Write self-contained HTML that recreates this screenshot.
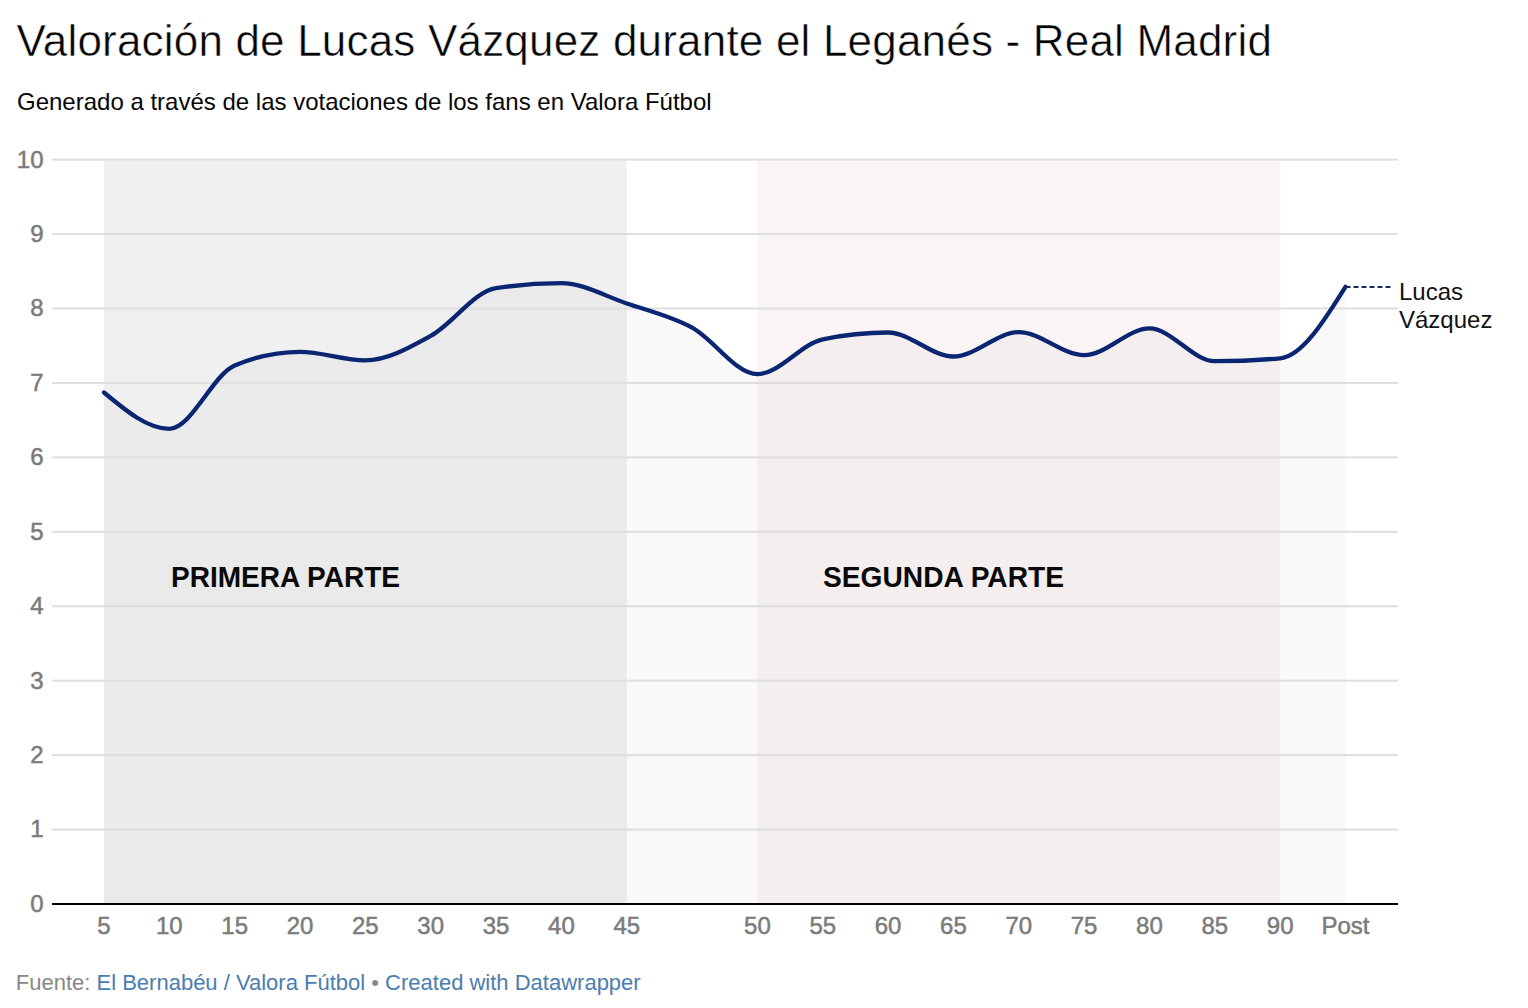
<!DOCTYPE html>
<html><head><meta charset="utf-8"><style>
html,body{margin:0;padding:0;background:#fff;}
body{width:1528px;height:1008px;overflow:hidden;position:relative;}
svg{position:absolute;left:0;top:0;}
text{font-family:"Liberation Sans",sans-serif;}
.ax{font-size:24px;fill:#7b7b7b;stroke:#7b7b7b;stroke-width:0.5px;}
</style></head><body>
<svg width="1528" height="1008" viewBox="0 0 1528 1008">
<text x="16.5" y="55.8" font-size="44" fill="#050505" letter-spacing="0.19" stroke="#fff" stroke-width="0.5">Valoración de Lucas Vázquez durante el Leganés - Real Madrid</text>
<text x="17" y="109.8" font-size="24" fill="#050505">Generado a través de las votaciones de los fans en Valora Fútbol</text>
<rect x="104.00" y="159.6" width="522.74" height="744.40" fill="#f0f0f0"/>
<rect x="757.42" y="159.6" width="522.74" height="744.40" fill="#faf4f4"/>
<path d="M104.00,392.50C125.78,410.65 147.56,428.80 169.34,428.80C191.12,428.80 212.90,374.63 234.68,365.50C256.46,356.37 278.25,351.80 300.03,351.80C321.81,351.80 343.59,360.30 365.37,360.30C387.15,360.30 408.93,347.93 430.71,335.90C452.49,323.87 474.27,291.37 496.05,288.10C517.83,284.83 539.61,283.20 561.39,283.20C583.18,283.20 604.96,296.10 626.74,303.50C648.52,310.90 670.30,315.83 692.08,327.60C713.86,339.37 735.64,374.10 757.42,374.10C779.20,374.10 800.98,343.83 822.76,339.30C844.54,334.77 866.32,332.50 888.11,332.50C909.89,332.50 931.67,356.50 953.45,356.50C975.23,356.50 997.01,332.10 1018.79,332.10C1040.57,332.10 1062.35,355.20 1084.13,355.20C1105.91,355.20 1127.69,328.40 1149.47,328.40C1171.25,328.40 1193.04,361.20 1214.82,361.20C1236.60,361.20 1258.38,360.23 1280.16,358.30C1301.94,356.37 1323.72,321.58 1345.50,286.80L1345.50,904L104.00,904Z" fill="#000" fill-opacity="0.024"/>
<rect x="52" y="828.56" width="1346" height="2" fill="#dedede"/>
<rect x="52" y="754.12" width="1346" height="2" fill="#dedede"/>
<rect x="52" y="679.68" width="1346" height="2" fill="#dedede"/>
<rect x="52" y="605.24" width="1346" height="2" fill="#dedede"/>
<rect x="52" y="530.80" width="1346" height="2" fill="#dedede"/>
<rect x="52" y="456.36" width="1346" height="2" fill="#dedede"/>
<rect x="52" y="381.92" width="1346" height="2" fill="#dedede"/>
<rect x="52" y="307.48" width="1346" height="2" fill="#dedede"/>
<rect x="52" y="233.04" width="1346" height="2" fill="#dedede"/>
<rect x="52" y="158.60" width="1346" height="2" fill="#dedede"/>

<rect x="52" y="903" width="1346" height="2" fill="#000"/>
<path d="M104.00,392.50C125.78,410.65 147.56,428.80 169.34,428.80C191.12,428.80 212.90,374.63 234.68,365.50C256.46,356.37 278.25,351.80 300.03,351.80C321.81,351.80 343.59,360.30 365.37,360.30C387.15,360.30 408.93,347.93 430.71,335.90C452.49,323.87 474.27,291.37 496.05,288.10C517.83,284.83 539.61,283.20 561.39,283.20C583.18,283.20 604.96,296.10 626.74,303.50C648.52,310.90 670.30,315.83 692.08,327.60C713.86,339.37 735.64,374.10 757.42,374.10C779.20,374.10 800.98,343.83 822.76,339.30C844.54,334.77 866.32,332.50 888.11,332.50C909.89,332.50 931.67,356.50 953.45,356.50C975.23,356.50 997.01,332.10 1018.79,332.10C1040.57,332.10 1062.35,355.20 1084.13,355.20C1105.91,355.20 1127.69,328.40 1149.47,328.40C1171.25,328.40 1193.04,361.20 1214.82,361.20C1236.60,361.20 1258.38,360.23 1280.16,358.30C1301.94,356.37 1323.72,321.58 1345.50,286.80" fill="none" stroke="#0a2672" stroke-width="4.3" stroke-linejoin="round" stroke-linecap="round"/>
<line x1="1345.50" y1="287" x2="1392" y2="287" stroke="#16295e" stroke-width="2.2" stroke-dasharray="5 3"/>
<text x="1399" y="299.8" font-size="24" fill="#111">Lucas</text>
<text x="1399" y="327.7" font-size="24" fill="#111">Vázquez</text>
<text x="171" y="586.6" font-size="30" font-weight="bold" fill="#0a0a0a" textLength="229" lengthAdjust="spacingAndGlyphs">PRIMERA PARTE</text>
<text x="823" y="586.6" font-size="30" font-weight="bold" fill="#0a0a0a" textLength="241" lengthAdjust="spacingAndGlyphs">SEGUNDA PARTE</text>
<text x="43.5" y="911.90" text-anchor="end" class="ax">0</text>
<text x="43.5" y="837.46" text-anchor="end" class="ax">1</text>
<text x="43.5" y="763.02" text-anchor="end" class="ax">2</text>
<text x="43.5" y="688.58" text-anchor="end" class="ax">3</text>
<text x="43.5" y="614.14" text-anchor="end" class="ax">4</text>
<text x="43.5" y="539.70" text-anchor="end" class="ax">5</text>
<text x="43.5" y="465.26" text-anchor="end" class="ax">6</text>
<text x="43.5" y="390.82" text-anchor="end" class="ax">7</text>
<text x="43.5" y="316.38" text-anchor="end" class="ax">8</text>
<text x="43.5" y="241.94" text-anchor="end" class="ax">9</text>
<text x="43.5" y="167.50" text-anchor="end" class="ax">10</text>

<text x="104.00" y="934.2" text-anchor="middle" class="ax">5</text>
<text x="169.34" y="934.2" text-anchor="middle" class="ax">10</text>
<text x="234.68" y="934.2" text-anchor="middle" class="ax">15</text>
<text x="300.03" y="934.2" text-anchor="middle" class="ax">20</text>
<text x="365.37" y="934.2" text-anchor="middle" class="ax">25</text>
<text x="430.71" y="934.2" text-anchor="middle" class="ax">30</text>
<text x="496.05" y="934.2" text-anchor="middle" class="ax">35</text>
<text x="561.39" y="934.2" text-anchor="middle" class="ax">40</text>
<text x="626.74" y="934.2" text-anchor="middle" class="ax">45</text>
<text x="757.42" y="934.2" text-anchor="middle" class="ax">50</text>
<text x="822.76" y="934.2" text-anchor="middle" class="ax">55</text>
<text x="888.11" y="934.2" text-anchor="middle" class="ax">60</text>
<text x="953.45" y="934.2" text-anchor="middle" class="ax">65</text>
<text x="1018.79" y="934.2" text-anchor="middle" class="ax">70</text>
<text x="1084.13" y="934.2" text-anchor="middle" class="ax">75</text>
<text x="1149.47" y="934.2" text-anchor="middle" class="ax">80</text>
<text x="1214.82" y="934.2" text-anchor="middle" class="ax">85</text>
<text x="1280.16" y="934.2" text-anchor="middle" class="ax">90</text>
<text x="1345.50" y="934.2" text-anchor="middle" class="ax">Post</text>

<text x="15.8" y="989.8" font-size="22"><tspan fill="#888">Fuente: </tspan><tspan fill="#4a7db0">El Bernabéu / Valora Fútbol</tspan><tspan fill="#888"> • </tspan><tspan fill="#4a7db0">Created with Datawrapper</tspan></text>
</svg>
</body></html>
